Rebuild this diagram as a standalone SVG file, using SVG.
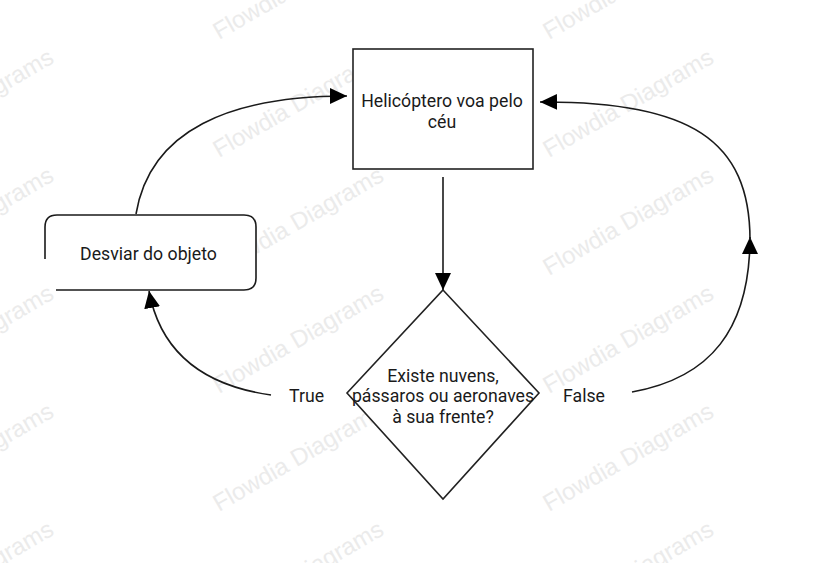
<svg xmlns="http://www.w3.org/2000/svg" width="816" height="563" viewBox="0 0 816 563">
<defs>
<style>
.wm{font-family:"Liberation Sans",Arial,sans-serif;font-size:24px;fill:#ebebeb;}
.lbl{font-family:Roboto,"Liberation Sans",sans-serif;font-size:17.7px;fill:#1a1a1a;text-anchor:middle;}
.shape{fill:#fff;stroke:#222;stroke-width:1.6;}
.edge{fill:none;stroke:#1a1a1a;stroke-width:1.6;}
</style>
<marker id="ah" markerUnits="userSpaceOnUse" markerWidth="18" markerHeight="18" viewBox="0 0 18 18" refX="17" refY="8" orient="auto">
<path d="M0,0 L17,8 L0,16 z" fill="#000"/>
</marker>
</defs>
<rect width="816" height="563" fill="#fff"/>
<g id="watermarks">
<text class="wm" transform="translate(-111,40) rotate(-30)">Flowdia Diagrams</text>
<text class="wm" transform="translate(-111,158) rotate(-30)">Flowdia Diagrams</text>
<text class="wm" transform="translate(-111,276) rotate(-30)">Flowdia Diagrams</text>
<text class="wm" transform="translate(-111,394) rotate(-30)">Flowdia Diagrams</text>
<text class="wm" transform="translate(-111,512) rotate(-30)">Flowdia Diagrams</text>
<text class="wm" transform="translate(-111,630) rotate(-30)">Flowdia Diagrams</text>
<text class="wm" transform="translate(219,40) rotate(-30)">Flowdia Diagrams</text>
<text class="wm" transform="translate(219,158) rotate(-30)">Flowdia Diagrams</text>
<text class="wm" transform="translate(219,276) rotate(-30)">Flowdia Diagrams</text>
<text class="wm" transform="translate(219,394) rotate(-30)">Flowdia Diagrams</text>
<text class="wm" transform="translate(219,512) rotate(-30)">Flowdia Diagrams</text>
<text class="wm" transform="translate(219,630) rotate(-30)">Flowdia Diagrams</text>
<text class="wm" transform="translate(549,40) rotate(-30)">Flowdia Diagrams</text>
<text class="wm" transform="translate(549,158) rotate(-30)">Flowdia Diagrams</text>
<text class="wm" transform="translate(549,276) rotate(-30)">Flowdia Diagrams</text>
<text class="wm" transform="translate(549,394) rotate(-30)">Flowdia Diagrams</text>
<text class="wm" transform="translate(549,512) rotate(-30)">Flowdia Diagrams</text>
<text class="wm" transform="translate(549,630) rotate(-30)">Flowdia Diagrams</text>
</g>
<g id="connectors">
<line class="edge" x1="443" y1="177" x2="443" y2="290" marker-end="url(#ah)"/>
<path class="edge" d="M136,214 C150,130 230,96 347,96" marker-end="url(#ah)"/>
<path class="edge" d="M271,395 C200,385 160,350 149,291" marker-end="url(#ah)"/>
<path class="edge" d="M632,392 C710,378 750,330 750,237" marker-end="url(#ah)"/>
<path class="edge" d="M750,240 C750,140 690,101 540,102" marker-end="url(#ah)"/>
</g>
<g id="node-helicoptero">
<rect class="shape" x="353" y="49" width="180" height="120"/>
<text class="lbl" x="442" y="107">Helicóptero voa pelo</text>
<text class="lbl" x="442" y="128">céu</text>
</g>
<g id="node-desviar">
<rect x="45" y="215" width="211" height="75" rx="12" fill="#fff"/>
<path class="edge" d="M45,259 L45,227 Q45,215 57,215 L244,215 Q256,215 256,227 L256,278 Q256,290 244,290 L56,290"/>
<text class="lbl" x="148.5" y="260">Desviar do objeto</text>
</g>
<g id="node-decisao">
<polygon class="shape" points="443,290 539,393 443,499 347,393"/>
<text class="lbl" x="443" y="382">Existe nuvens,</text>
<text class="lbl" x="443" y="402">pássaros ou aeronaves</text>
<text class="lbl" x="443" y="423">à sua frente?</text>
</g>
<g id="edge-labels">
<text class="lbl" x="306.5" y="402">True</text>
<text class="lbl" x="584" y="402">False</text>
</g>
</svg>
